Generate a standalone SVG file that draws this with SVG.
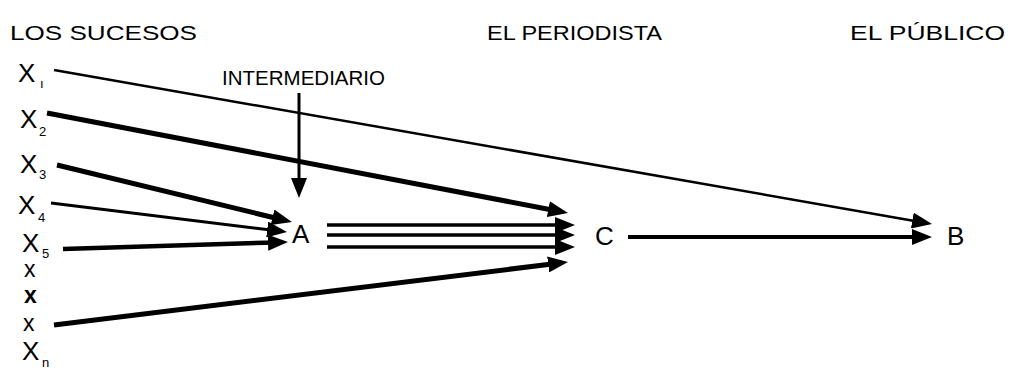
<svg xmlns="http://www.w3.org/2000/svg" width="1018" height="382" viewBox="0 0 1018 382">
  <style>
    text { font-family: "Liberation Sans", Arial, sans-serif; fill: #000; }
    .head { font-size: 21px; }
    .var { font-size: 26px; }
    .small { font-size: 23px; }
    .sub { font-size: 13px; }
    .node { font-size: 26px; }
    .edge { fill: none; stroke: #000; marker-end: url(#arrow); }
  </style>
  <defs>
    <marker id="arrow" markerUnits="userSpaceOnUse" markerWidth="20" markerHeight="16" refX="8" refY="8" orient="auto">
      <path d="M0,0 L20,8 L0,16 z" fill="#000"/>
    </marker>
  </defs>
  <rect width="1018" height="382" fill="#fff"/>

  <!-- column headings -->
  <g id="headings">
    <text class="head" x="10" y="40" textLength="187" lengthAdjust="spacingAndGlyphs">LOS SUCESOS</text>
    <text class="head" x="487" y="40" textLength="175" lengthAdjust="spacingAndGlyphs">EL PERIODISTA</text>
    <text class="head" x="850" y="40" textLength="155" lengthAdjust="spacingAndGlyphs">EL PÚBLICO</text>
  </g>

  <!-- events -->
  <g id="x1"><text class="var" x="18" y="82">X</text><text class="sub" x="40" y="88" font-size="16">ı</text></g>
  <g id="x2"><text class="var" x="20" y="128">X</text><text class="sub" x="39" y="136">2</text></g>
  <g id="x3"><text class="var" x="20" y="173">X</text><text class="sub" x="39" y="179">3</text></g>
  <g id="x4"><text class="var" x="18" y="214">X</text><text class="sub" x="38" y="222">4</text></g>
  <g id="x5"><text class="var" x="22" y="252">X</text><text class="sub" x="42" y="258">5</text></g>
  <g id="x6"><text class="small" x="24" y="277">x</text></g>
  <g id="x7"><text class="small" x="24" y="303" font-weight="bold">x</text></g>
  <g id="x8"><text class="small" x="23" y="331" font-size="27">x</text></g>
  <g id="xn"><text class="var" x="22" y="360">X</text><text class="sub" x="42" y="367">n</text></g>

  <!-- intermediary, journalist, public -->
  <g id="intermediario"><text class="head" x="222" y="85" textLength="163" lengthAdjust="spacingAndGlyphs">INTERMEDIARIO</text></g>
  <g id="A"><text class="node" x="292" y="243" font-size="28">A</text></g>
  <g id="C"><text class="node" x="595" y="245">C</text></g>
  <g id="B"><text class="node" x="947" y="245">B</text></g>

  <!-- connectors -->
  <g id="connectors">
    <path class="edge" stroke-width="2.5" d="M54,70 L920.2,221.9"/>
    <path class="edge" stroke-width="5" d="M47,113 L556.2,210.7"/>
    <path class="edge" stroke-width="5" d="M57,165 L280.3,219.2"/>
    <path class="edge" stroke-width="3" d="M51,203 L275.1,230.5"/>
    <path class="edge" stroke-width="4.5" d="M63,249 L276,242.4"/>
    <path class="edge" stroke-width="5" d="M54,325 L556.1,263.5"/>
    <path class="edge" stroke-width="3" d="M299,93 L299,186"/>
    <path class="edge" stroke-width="3.5" d="M327,225 L563,225"/>
    <path class="edge" stroke-width="3.5" d="M327,235 L563,235"/>
    <path class="edge" stroke-width="3.5" d="M327,247 L563,247"/>
    <path class="edge" stroke-width="4" d="M628,237 L920,237"/>
  </g>
</svg>
